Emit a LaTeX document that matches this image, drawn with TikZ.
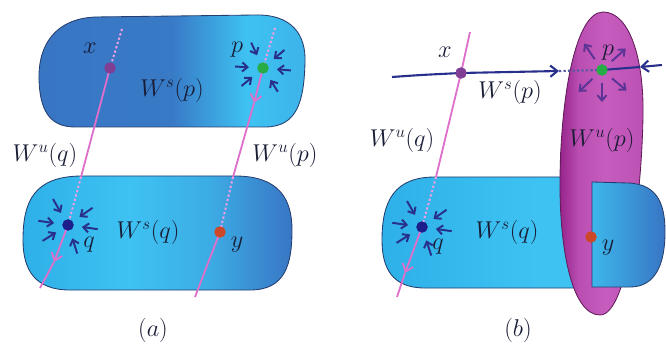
\documentclass[tikz,border=0pt]{standalone}
\usepackage{tikz}
\usetikzlibrary{arrows.meta, calc}

\definecolor{deepblue}{RGB}{56,118,196}
\definecolor{skyblue}{RGB}{62,194,242}
\definecolor{midcyan}{RGB}{46,176,232}
\definecolor{rimblue}{RGB}{38,62,110}
\definecolor{orchidline}{RGB}{222,112,204}
\definecolor{orchiddot}{RGB}{238,158,226}
\definecolor{navyline}{RGB}{40,48,140}
\definecolor{violetarr}{RGB}{92,52,150}
\definecolor{magdark}{RGB}{150,36,140}
\definecolor{maglight}{RGB}{198,92,190}
\definecolor{magrim}{RGB}{96,28,88}
\definecolor{xdot}{RGB}{128,62,148}
\definecolor{pdot}{RGB}{40,172,70}
\definecolor{qdot}{RGB}{28,30,140}
\definecolor{ydot}{RGB}{204,72,40}
\definecolor{textdark}{RGB}{24,28,52}

\pgfdeclarehorizontalshading{topblob}{100bp}{color(0bp)=(deepblue); color(25bp)=(deepblue);
  color(50bp)=(deepblue!95!skyblue); color(64bp)=(skyblue); color(75bp)=(skyblue!80!deepblue);
  color(100bp)=(skyblue!80!deepblue)}
\pgfdeclarehorizontalshading{lowblob}{100bp}{color(0bp)=(midcyan); color(25bp)=(midcyan);
  color(45bp)=(skyblue); color(60bp)=(skyblue!70!deepblue); color(75bp)=(deepblue);
  color(100bp)=(deepblue)}
\pgfdeclarehorizontalshading{lowleft}{100bp}{color(0bp)=(midcyan); color(25bp)=(midcyan);
  color(60bp)=(skyblue); color(100bp)=(skyblue)}
\pgfdeclarehorizontalshading{lowpiece}{100bp}{color(0bp)=(skyblue!85!deepblue); color(25bp)=(skyblue!85!deepblue);
  color(75bp)=(deepblue); color(100bp)=(deepblue)}
\pgfdeclarehorizontalshading{unstable}{100bp}{color(0bp)=(magdark); color(25bp)=(magdark);
  color(36bp)=(maglight!75!magdark); color(52bp)=(maglight); color(75bp)=(maglight!80!magdark);
  color(100bp)=(maglight!80!magdark)}

\begin{document}
\begin{tikzpicture}[
  x=0.025cm, y=-0.025cm,
  blob/.style={draw=rimblue, line width=0.6pt},
  manifold/.style={orchidline, line width=1.3pt},
  hidden/.style={orchiddot, line width=1.4pt, dash pattern=on 1.6pt off 1.6pt},
  stable/.style={navyline, line width=1.5pt},
  hiddenstable/.style={navyline!80, line width=1.5pt, dash pattern=on 1.6pt off 1.6pt},
  midtip/.style={-{Straight Barb[length=5pt,width=8pt]}},
  sink/.style={navyline, line width=1.4pt, -{Straight Barb[length=3.8pt,width=6.5pt]}},
  source/.style={violetarr, line width=1.4pt, -{Straight Barb[length=3.8pt,width=6.5pt]}},
  dot/.style={circle, inner sep=0pt, minimum size=0.28cm},
  lbl/.style={font=\LARGE, text=textdark, inner sep=0pt}
]
\useasboundingbox (0,0) rectangle (666,348);

% (a)
\path[blob, shading=topblob] (95,17) -- (255,15) .. controls (292,14) and (306,35) .. (305,62)
  .. controls (304,100) and (298,127) .. (265,127) -- (75,127)
  .. controls (48,127) and (40,108) .. (39,80) .. controls (38,45) and (55,19) .. (95,17) -- cycle;
\path[blob, shading=lowblob] (80,176) -- (235,176) .. controls (280,176) and (292,200) .. (292,230)
  .. controls (292,265) and (285,290) .. (250,290) -- (70,290)
  .. controls (35,290) and (23,270) .. (23,240) .. controls (23,200) and (35,177) .. (80,176) -- cycle;

\coordinate (topxA) at (122,29);
\coordinate (entqA) at (81,177);
\coordinate (tipqA) at (54,262);
\coordinate (endqA) at (40,288);
\coordinate (toppA) at (275,28);
\coordinate (tippA) at (254,103);
\coordinate (entyA) at (233,177);
\coordinate (endyA) at (195,297);
\node[dot, fill=xdot] (xA) at (110,68)  {};
\node[dot, fill=pdot] (pA) at (263,68)  {};
\node[dot, fill=qdot] (qA) at (68,225)  {};
\node[dot, fill=ydot] (yA) at (220,232) {};

\draw[hidden]   (topxA) -- (xA.center);
\draw[manifold] (xA.center) -- (entqA);
\draw[hidden]   (entqA) -- (qA.center);
\draw[manifold, midtip] (qA.center) -- (tipqA);
\draw[manifold] (tipqA) -- (endqA);
\draw[hidden]   (toppA) -- (pA.center);
\draw[manifold, midtip] (pA.center) -- (tippA);
\draw[manifold] (tippA) -- (entyA);
\draw[hidden]   (entyA) -- (yA.center);
\draw[manifold] (yA.center) -- (endyA);

\foreach \a in {245,183,140,5,320,58}
  \draw[sink] ([shift={(\a:28)}]pA.center) -- ([shift={(\a:14)}]pA.center);
\foreach \a in {240,188,148,325,8,72}
  \draw[sink] ([shift={(\a:30)}]qA.center) -- ([shift={(\a:14)}]qA.center);

\node[dot, fill=xdot] at (xA) {};
\node[dot, fill=pdot] at (pA) {};
\node[dot, fill=qdot] at (qA) {};
\node[dot, fill=ydot] at (yA) {};

\node[lbl] (lxA)  at (90,48)   {$x$};
\node[lbl] (lpA)  at (237,50)  {$p$};
\node[lbl] (wspA) at (172,90)  {$W^s(p)$};
\node[lbl] (wuqA) at (45,155)  {$W^u(q)$};
\node[lbl] (wupA) at (285,155) {$W^u(p)$};
\node[lbl] (wsqA) at (148,232) {$W^s(q)$};
\node[lbl] (lqA)  at (89,245)  {$q$};
\node[lbl] (lyA)  at (237,245) {$y$};
\node[lbl] (capA) at (153,330) {$(a)$};

% (b)
\path[blob, shading=lowleft] (435,177) -- (600,177) -- (600,288) -- (425,288)
  .. controls (392,288) and (382,268) .. (382,240) .. controls (382,200) and (395,177) .. (435,177) -- cycle;
\path[draw=magrim, line width=0.6pt, shading=unstable] (603,12) .. controls (630,12) and (644,60) .. (643,115)
  .. controls (642,190) and (628,315) .. (600,315) .. controls (572,315) and (560,250) .. (560,185)
  .. controls (560,100) and (575,12) .. (603,12) -- cycle;
\path[blob, shading=lowpiece] (592,182) -- (628,183) .. controls (660,184) and (665,208) .. (665,232)
  .. controls (665,265) and (655,287) .. (630,287) -- (592,287) -- cycle;

\coordinate (topxB) at (470,32);
\coordinate (entqB) at (436,177);
\coordinate (tipqB) at (405,273);
\coordinate (endqB) at (397,297);
\coordinate (startB) at (392,77);
\coordinate (tipsB) at (559,71);
\coordinate (tipeB) at (640,67);
\coordinate (endsB) at (662,65);
\node[dot, fill=xdot] (xB) at (461,73)  {};
\node[dot, fill=pdot] (pB) at (602,70)  {};
\node[dot, fill=qdot] (qB) at (422,227) {};
\node[dot, fill=ydot] (yB) at (591,237) {};

\draw[manifold] (topxB) -- (xB.center) -- (entqB);
\draw[hidden]   (entqB) -- (qB.center);
\draw[manifold, midtip] (qB.center) -- (tipqB);
\draw[manifold] (tipqB) -- (endqB);

\draw[hiddenstable] (tipsB) -- (pB.center);
\draw[stable, midtip] (startB) .. controls (420,75) .. (xB.center) -- (tipsB);
\draw[stable, midtip] (endsB) -- (tipeB);
\draw[stable] (tipeB) -- (pB.center);

\foreach \a in {236,318,137,90,40}
  \draw[source] ([shift={(\a:13)}]pB.center) -- ([shift={(\a:32)}]pB.center);

\node[dot, fill=xdot] at (xB) {};
\node[dot, fill=pdot] at (pB) {};
\node[dot, fill=qdot] at (qB) {};
\node[dot, fill=ydot] at (yB) {};

\foreach \a in {240,188,148,325,8,72}
  \draw[sink] ([shift={(\a:30)}]qB.center) -- ([shift={(\a:14)}]qB.center);

\node[lbl] (lxB)  at (445,52)  {$x$};
\node[lbl] (lpB)  at (608,53)  {$p$};
\node[lbl] (wspB) at (510,92)  {$W^s(p)$};
\node[lbl] (wuqB) at (402,140) {$W^u(q)$};
\node[lbl] (wupB) at (602,140) {$W^u(p)$};
\node[lbl] (wsqB) at (507,232) {$W^s(q)$};
\node[lbl] (lqB)  at (438,247) {$q$};
\node[lbl] (lyB)  at (608,248) {$y$};
\node[lbl] (capB) at (518,330) {$(b)$};
\end{tikzpicture}
\end{document}
